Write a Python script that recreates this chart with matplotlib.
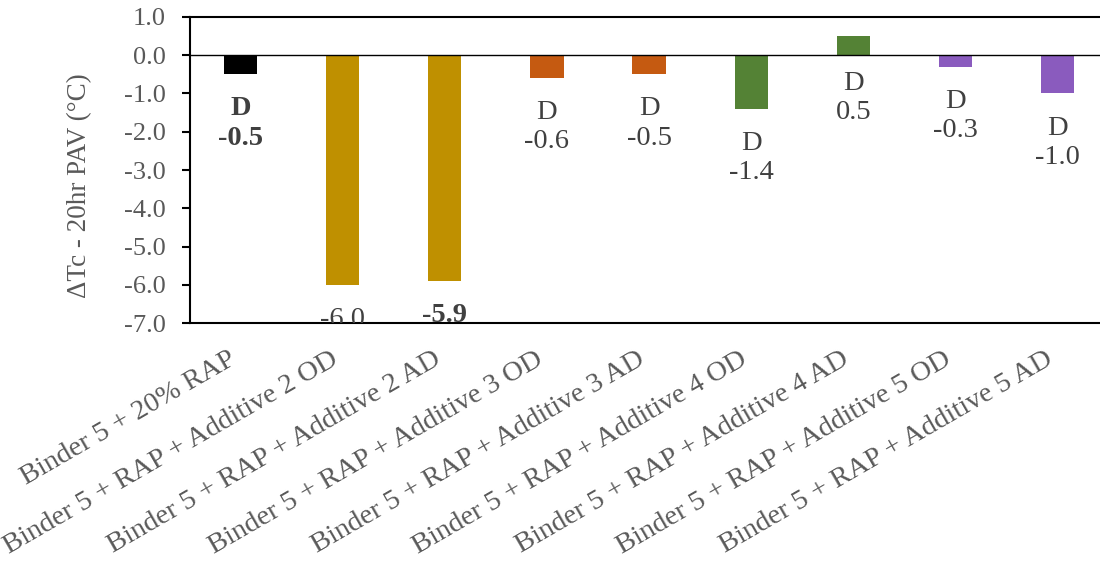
import matplotlib
matplotlib.use("Agg")
import matplotlib.pyplot as plt
import matplotlib.transforms as mtransforms

categories = [
    "Binder 5 + 20% RAP",
    "Binder 5 + RAP + Additive 2 OD",
    "Binder 5 + RAP + Additive 2 AD",
    "Binder 5 + RAP + Additive 3 OD",
    "Binder 5 + RAP + Additive 3 AD",
    "Binder 5 + RAP + Additive 4 OD",
    "Binder 5 + RAP + Additive 4 AD",
    "Binder 5 + RAP + Additive 5 OD",
    "Binder 5 + RAP + Additive 5 AD",
]
values = [-0.5, -6.0, -5.9, -0.6, -0.5, -1.4, 0.5, -0.3, -1.0]
grades = ["D", "", "", "D", "D", "D", "D", "D", "D"]
bold_labels = [True, False, True, False, False, False, False, False, False]
colors = ["#000000", "#BF9000", "#BF9000", "#C55A11", "#C55A11",
          "#548235", "#548235", "#8A5BBE", "#8A5BBE"]
yticks = [1.0, 0.0, -1.0, -2.0, -3.0, -4.0, -5.0, -6.0, -7.0]
ylabel = "ΔTc - 20hr PAV (°C)"

plt.rcParams['font.family'] = ['Liberation Serif', 'DejaVu Serif']

fig = plt.figure(figsize=(11, 5.69), dpi=100)
ax = fig.add_axes([0.1723, 0.4318, 0.8355, 0.5388])

x = list(range(len(values)))
ax.bar(x, values, width=0.325, color=colors, zorder=2)
ax.axhline(0, color="black", lw=1.0, zorder=3)

ax.set_xlim(-0.5, len(values) - 0.5)
ax.set_ylim(-7.0, 1.0)
ax.set_yticks(yticks)
ax.set_yticklabels([f"{t:.1f}" for t in yticks])
ax.tick_params(axis="y", direction="out", length=6, width=1.5, pad=11,
               labelsize=19, labelcolor="#595959")
ax.set_xticks(x)
ax.set_xticklabels(categories, rotation=30, ha="right", fontsize=20.5, color="#595959")
ax.tick_params(axis="x", length=0, pad=17)

for s in ["left", "bottom", "top"]:
    ax.spines[s].set_linewidth(1.5)
    ax.spines[s].set_color("black")
ax.spines["right"].set_visible(False)

ax.set_ylabel(ylabel, fontsize=19.5, color="#595959")
ax.yaxis.set_label_coords(-0.106, 0.45)

for i, (v, g, b) in enumerate(zip(values, grades, bold_labels)):
    dy = -16 if v < 0 else -11.5
    off = mtransforms.offset_copy(ax.transData, fig=fig, x=0, y=dy, units="points")
    txt = f"{g}\n{v:.1f}" if g else f"{v:.1f}"
    ax.text(i, min(v, 0), txt, transform=off, ha="center", va="top",
            fontsize=20.5, color="#404040", fontweight="bold" if b else "normal",
            linespacing=1.22, clip_on=True, zorder=4)

fig.savefig("out.png", dpi=100)
